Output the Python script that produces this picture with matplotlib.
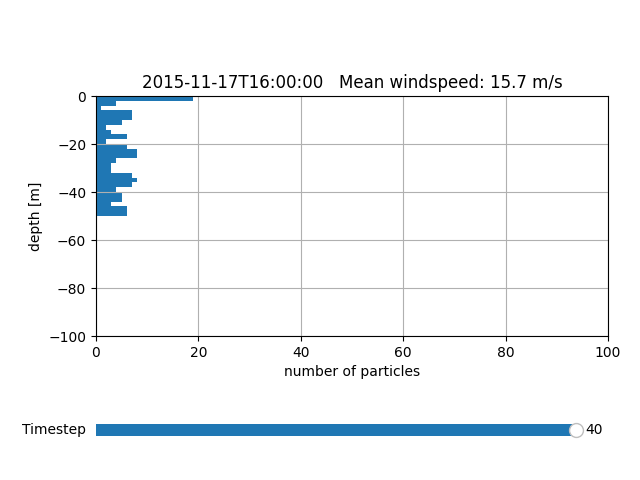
import matplotlib

matplotlib.use("Agg")
import matplotlib.pyplot as plt
import numpy as np
from matplotlib.widgets import Slider

TITLE = "2015-11-17T16:00:00   Mean windspeed: 15.7 m/s"
BIN_WIDTH = 2
# top edge of each depth bin [m], from 0 down to -48
bin_tops = [0, -2, -4, -6, -8, -10, -12, -14, -16, -18, -20, -22, -24,
            -26, -28, -30, -32, -34, -36, -38, -40, -42, -44, -46, -48]
counts = [19, 4, 1, 7, 7, 5, 2, 3, 6, 2, 6, 8, 8,
          4, 3, 3, 7, 8, 7, 4, 5, 5, 3, 6, 6]
timestep = 40
timestep_max = 40

fig = plt.figure(figsize=(6.4, 4.8), dpi=100)
ax = fig.add_axes([0.15, 0.3, 0.8, 0.5])
ax.barh(bin_tops, counts, height=-BIN_WIDTH, align="edge", color="#1f77b4")
ax.set_xlim(0, 100)
ax.set_ylim(-100, 0)
ax.grid(True)
ax.set_xlabel("number of particles")
ax.set_ylabel("depth [m]")
ax.set_title(TITLE)

sax = fig.add_axes([0.15, 0.08, 0.75, 0.05])
slider = Slider(sax, "Timestep", 0, timestep_max, valinit=timestep, valfmt="%d")

fig.savefig("out.png", dpi=100)
